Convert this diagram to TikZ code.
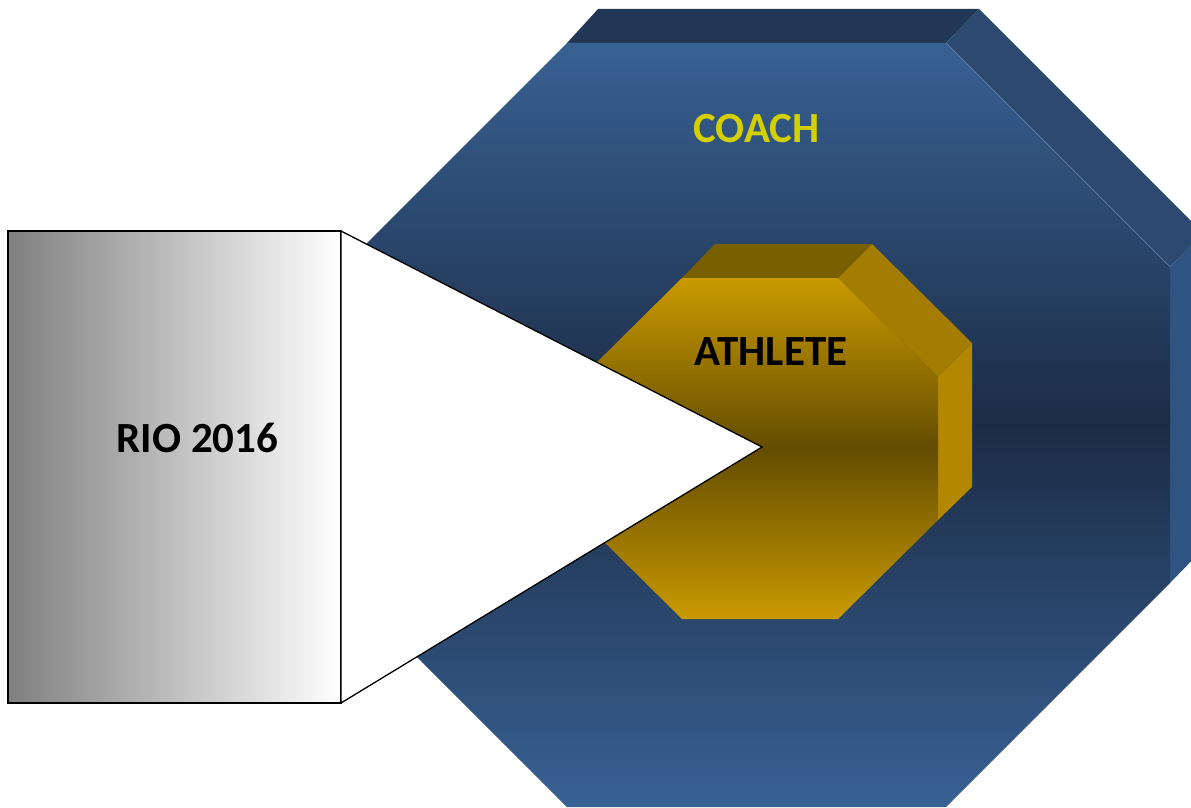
\documentclass[tikz,border=0pt]{standalone}
\usepackage{fontspec}
\setmainfont{Carlito}
\definecolor{bluetop}{RGB}{56,97,147}
\definecolor{bluemid}{RGB}{28,44,70}
\definecolor{blueface}{RGB}{34,55,86}
\definecolor{bluediag}{RGB}{44,74,112}
\definecolor{blueside}{RGB}{47,84,130}
\definecolor{bluehl}{RGB}{96,124,165}
\definecolor{goldtop}{RGB}{202,154,0}
\definecolor{goldmid}{RGB}{99,76,0}
\definecolor{goldface}{RGB}{122,95,0}
\definecolor{golddiag}{RGB}{163,124,0}
\definecolor{goldside}{RGB}{179,136,0}
\definecolor{coachyellow}{RGB}{212,208,0}
\tikzset{
  label/.style={font=\bfseries\fontsize{43}{43}\selectfont, inner sep=0pt, anchor=center},
  outline/.style={draw=black, line width=1.3pt, line join=miter},
}
\begin{document}
\begin{tikzpicture}[x=1pt,y=-1pt]
\useasboundingbox (0,0) rectangle (1191,808);
\clip (0,0) rectangle (1191,808);
% big octagon (coach) extrusion faces
\fill[blueface] (567,43) -- (598,9) -- (979,9) -- (946,43) -- cycle;
\fill[bluediag] (946,43) -- (979,9) -- (1203,233) -- (1170,267) -- cycle;
\fill[blueside] (1170,267) -- (1203,233) -- (1203,549) -- (1170,583) -- cycle;
% big octagon front
\shade[top color=bluetop, bottom color=bluetop, middle color=bluemid]
  (567,43) -- (946,43) -- (1170,267) -- (1170,583) -- (946,807) -- (567,807)
  -- (343,583) -- (343,267) -- cycle;
\draw[bluehl, line width=0.7pt] (946,43) -- (1170,267);
% gold octagon (athlete) extrusion faces
\fill[goldface] (682,278) -- (715,244) -- (872,244) -- (838,278) -- cycle;
\fill[golddiag] (838,278) -- (872,244) -- (972,343) -- (938,377) -- cycle;
\fill[goldside] (938,377) -- (972,343) -- (972,487) -- (938,520) -- cycle;
% gold octagon front
\shade[top color=goldtop, bottom color=goldtop, middle color=goldmid]
  (682,278) -- (838,278) -- (938,377) -- (938,520) -- (838,619) -- (682,619)
  -- (582,520) -- (582,377) -- cycle;
% RIO box and pointer
\shade[left color=black!50, right color=white] (8,231) rectangle (341,703);
\draw[outline] (8,231) rectangle (341,703);
\filldraw[fill=white, outline] (341,231) -- (762,447) -- (341,703) -- cycle;
% labels
\node[label, text=coachyellow] (coach) at (756.5,129) {COACH};
\node[label, text=black] (athlete) at (771,352) {ATHLETE};
\node[label, text=black] (rio) at (197.5,438) {RIO 2016};
\end{tikzpicture}
\end{document}
